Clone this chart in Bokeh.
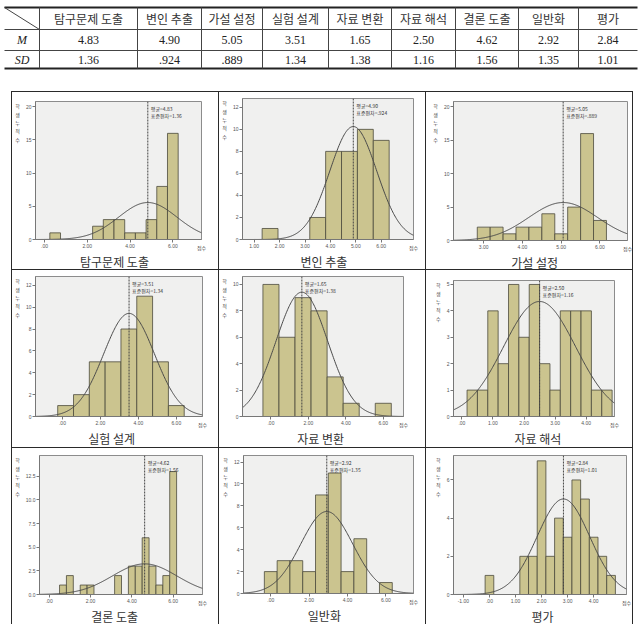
import numpy as np
from bokeh.plotting import figure
from bokeh.models import Span, Label, FixedTicker, Range1d, Spacer, ColumnDataSource
from bokeh.layouts import column, row
from bokeh.embed import file_html
from bokeh.resources import INLINE
from bokeh.core.properties import value

# ---------------- data ----------------
skills = ["탐구문제 도출", "변인 추출", "가설 설정", "실험 설계", "자료 변환",
          "자료 해석", "결론 도출", "일반화", "평가"]
mean_text = ["4.83", "4.90", "5.05", "3.51", "1.65", "2.50", "4.62", "2.92", "2.84"]
sd_text = ["1.36", ".924", ".889", "1.34", "1.38", "1.16", "1.56", "1.35", "1.01"]
means = [4.83, 4.90, 5.05, 3.51, 1.65, 2.50, 4.62, 2.92, 2.84]
sds = [1.36, 0.924, 0.889, 1.34, 1.38, 1.16, 1.56, 1.35, 1.01]

inquiry_centers = [0.5, 2.5, 3.0, 3.5, 4.0, 4.5, 5.0, 5.5, 6.0]
inquiry_counts = [1, 2, 3, 3, 1, 1, 3, 8, 16]
variable_centers = [1.625, 3.5, 4.125, 4.75, 5.375, 6.0]
variable_counts = [1, 2, 8, 8, 10, 9]
hypothesis_centers = [3.0, 3.333, 3.667, 4.0, 4.333, 4.667, 5.0, 5.333, 5.667, 6.0]
hypothesis_counts = [2, 2, 1, 2, 2, 4, 1, 5, 16, 3]
design_centers = [0.167, 1.0, 1.833, 2.667, 3.5, 4.333, 5.167, 6.0]
design_counts = [1, 2, 5, 5, 8, 11, 5, 1]
transform_centers = [0.0, 0.857, 1.714, 2.571, 3.429, 4.286, 6.0]
transform_counts = [10, 6, 9, 8, 3, 1, 1]
interpret_centers = [0.333, 0.667, 1.0, 1.333, 1.667, 2.0, 2.333, 2.667, 3.0,
                     3.333, 3.667, 4.0, 4.333, 4.667]
interpret_counts = [1, 1, 4, 2, 5, 3, 5, 2, 1, 4, 4, 4, 1, 1]
conclusion_centers = [0.667, 1.0, 1.667, 2.0, 3.333, 4.0, 4.333, 4.667, 5.0, 5.333, 5.667, 6.0]
conclusion_counts = [1, 2, 1, 1, 2, 3, 3, 6, 3, 1, 2, 13]
general_centers = [0.0, 0.667, 1.333, 2.0, 2.667, 3.333, 4.0, 4.667, 6.0]
general_counts = [2, 3, 3, 2, 9, 11, 2, 5, 1]
evaluation_centers = [0.0, 1.333, 1.667, 2.0, 2.333, 2.667, 3.0, 3.333, 3.667, 4.0, 4.333, 4.667]
evaluation_counts = [1, 2, 2, 7, 2, 4, 3, 6, 5, 3, 2, 1]

bin_widths = [0.5, 0.625, 0.3333, 0.8333, 0.857, 0.3333, 0.3333, 0.6667, 0.3333]
all_centers = [inquiry_centers, variable_centers, hypothesis_centers, design_centers,
               transform_centers, interpret_centers, conclusion_centers, general_centers,
               evaluation_centers]
all_counts = [inquiry_counts, variable_counts, hypothesis_counts, design_counts,
              transform_counts, interpret_counts, conclusion_counts, general_counts,
              evaluation_counts]

x_ticks = [[0, 2, 4, 6], [1, 2, 3, 4, 5, 6], [3, 4, 5, 6], [0, 2, 4, 6], [0, 2, 4, 6],
           [0, 1, 2, 3, 4], [0, 2, 4, 6], [0, 2, 4, 6], [-1, 0, 1, 2, 3, 4]]
x_tick_labels = [[".00", "2.00", "4.00", "6.00"],
                 ["1.00", "2.00", "3.00", "4.00", "5.00", "6.00"],
                 ["3.00", "4.00", "5.00", "6.00"],
                 [".00", "2.00", "4.00", "6.00"],
                 [".00", "2.00", "4.00", "6.00"],
                 [".00", "1.00", "2.00", "3.00", "4.00"],
                 [".00", "2.00", "4.00", "6.00"],
                 [".00", "2.00", "4.00", "6.00"],
                 ["-1.00", ".00", "1.00", "2.00", "3.00", "4.00"]]
y_ticks = [[0, 5, 10, 15, 20], [0, 2, 4, 6, 8, 10, 12], [0, 5, 10, 15, 20],
           [0, 2, 4, 6, 8, 10, 12], [0, 2, 4, 6, 8, 10], [0, 1, 2, 3, 4, 5],
           [0, 2.5, 5, 7.5, 10, 12.5], [0, 2, 4, 6, 8, 10, 12], [0, 2, 4, 6]]
y_tick_labels = [["0", "5", "10", "15", "20"], ["0", "2", "4", "6", "8", "10", "12"],
                 ["0", "5", "10", "15", "20"], ["0", "2", "4", "6", "8", "10", "12"],
                 ["0", "2", "4", "6", "8", "10"], ["0", "1", "2", "3", "4", "5"],
                 ["0.0", "2.5", "5.0", "7.5", "10.0", "12.5"],
                 ["0", "2", "4", "6", "8", "10", "12"], ["0", "2", "4", "6"]]
y_title = "\n\n\n\n\n학\n생\n누\n적\n수"
x_title = "점수"

# ---------------- layout (positions in page pixels) ----------------
CELL_W, CELL_H = 206, 177
cell_x = [12, 219, 426]
cell_y = [92, 270, 448]
frames = [(33, 201, 101, 243), (242, 413, 98, 243), (453, 627, 101, 244),
          (31, 202, 276, 420), (241, 403, 276, 420), (453, 614, 280, 420),
          (33, 202, 455, 598), (243, 413, 455, 597), (453, 626, 455, 598)]
x_lims = [(-0.42, 7.34), (0.54, 7.27), (2.22, 6.71), (-1.42, 7.38), (-1.52, 7.08),
          (-0.27, 4.91), (-0.47, 7.42), (-1.42, 7.44), (-1.38, 5.26)]
y_tops = [20.8, 12.8, 20.8, 12.8, 10.6, 5.15, 14.7, 12.6, 7.28]
caption_pos = [(110, 258), (317, 258), (522, 258), (106, 437), (319, 437), (534, 437),
               (107, 615), (317, 615), (532, 615)]
AXIS_H = 10

BAR_FILL = "#cbc48f"
BAR_LINE = "#4b4a3c"
KFONT = "Noto Sans CJK KR"


def try_set(obj, name, val):
    try:
        setattr(obj, name, val)
    except Exception:
        pass


cells = []
for i in range(9):
    cx = cell_x[i % 3]
    cy = cell_y[i // 3]
    l, r, t, b = frames[i]
    hh = (b - cy) + AXIS_H
    p = figure(width=CELL_W, height=hh, output_backend="svg", toolbar_location=None,
               x_range=Range1d(*x_lims[i]), y_range=Range1d(0, y_tops[i]),
               min_border_left=l - cx, min_border_right=cx + CELL_W - r,
               min_border_top=t - cy, min_border_bottom=AXIS_H)
    p.background_fill_color = "#f0f0ef"
    p.border_fill_color = "white"
    p.outline_line_color = "#8c8c8c"
    p.grid.visible = False
    for ax in (p.xaxis, p.yaxis):
        ax.axis_line_color = "#777777"
        ax.major_tick_line_color = "#777777"
        ax.major_tick_out = 3
        ax.major_tick_in = 0
        ax.minor_tick_line_color = None
        ax.major_label_text_font_size = "5px"
        ax.major_label_text_color = "#555555"
        ax.major_label_standoff = 1
        ax.axis_label_text_font = KFONT
        ax.axis_label_text_font_size = "5px"
        ax.axis_label_text_font_style = "normal"
        ax.axis_label_text_color = "#444444"
    p.xaxis.ticker = FixedTicker(ticks=x_ticks[i])
    p.xaxis.major_label_overrides = dict(zip(x_ticks[i], x_tick_labels[i]))
    p.yaxis.ticker = FixedTicker(ticks=y_ticks[i])
    p.yaxis.major_label_overrides = dict(zip(y_ticks[i], y_tick_labels[i]))

    xa = p.xaxis[0]
    xa.axis_label = x_title
    xa.axis_label_standoff = -7
    try_set(xa, "axis_label_align", "end")
    ya = p.yaxis[0]
    ya.axis_label = y_title
    ya.axis_label_standoff = 3
    try_set(ya, "axis_label_orientation", "horizontal")
    try_set(ya, "axis_label_align", "end")

    src = ColumnDataSource(dict(x=all_centers[i], top=all_counts[i]))
    p.vbar(x="x", top="top", bottom=0, width=bin_widths[i], source=src,
           fill_color=BAR_FILL, line_color=BAR_LINE, line_width=0.8)

    n = sum(all_counts[i])
    xs = np.linspace(x_lims[i][0], x_lims[i][1], 240)
    ys = n * bin_widths[i] / (sds[i] * np.sqrt(2 * np.pi)) * np.exp(-0.5 * ((xs - means[i]) / sds[i]) ** 2)
    p.line(xs, ys, line_color="#4a4a4a", line_width=1)

    p.add_layout(Span(location=means[i], dimension="height", line_color="#444444",
                      line_width=1, line_dash="2 1"))
    p.add_layout(Label(x=means[i], y=y_tops[i], x_offset=3, y_offset=-3,
                       text="평균=" + mean_text[i] + "\n표준편차=" + sd_text[i],
                       text_font=KFONT, text_font_size="5px", text_color="#333333",
                       text_align="left", text_baseline="top", text_line_height=1.1))

    # caption strip under the histogram
    ch = CELL_H - hh
    capx, capy = caption_pos[i]
    ycap = max(7.5, capy - cy - hh)
    cf = figure(width=CELL_W, height=ch, x_range=Range1d(0, CELL_W), y_range=Range1d(ch, 0),
                x_axis_type=None, y_axis_type=None, output_backend="svg",
                toolbar_location=None, min_border=0)
    cf.outline_line_color = None
    cf.border_fill_color = "white"
    cf.background_fill_color = "white"
    cf.grid.visible = False
    cf.text(x=[capx - cx], y=[ycap], text=[skills[i]], text_font=value(KFONT),
            text_font_size="12px", text_color="#333333", text_align="center",
            text_baseline="middle")
    cell = column(p, cf, spacing=0, styles={"outline": "1px solid #2a2a2a"})
    cells.append(cell)

grid = column([row(cells[k:k + 3], spacing=1) for k in (0, 3, 6)], spacing=1)

# ---------------- table ----------------
col_edges = [4, 39, 137, 201, 262, 328, 391, 455, 518, 578, 637]
row_lines = [7, 29, 50, 68]
tf = figure(width=640, height=91, x_range=Range1d(0, 640), y_range=Range1d(91, 0),
            x_axis_type=None, y_axis_type=None, output_backend="svg",
            toolbar_location=None, min_border=0)
tf.outline_line_color = None
tf.grid.visible = False
L, R = col_edges[0], col_edges[-1]
tf.segment(x0=[L, L], y0=[row_lines[0], row_lines[3]], x1=[R, R], y1=[row_lines[0], row_lines[3]],
           line_color="#222222", line_width=2)
tf.segment(x0=[L, L], y0=[row_lines[1], row_lines[2]], x1=[R, R], y1=[row_lines[1], row_lines[2]],
           line_color="#444444", line_width=1)
inner = col_edges[1:-1]
tf.segment(x0=inner, y0=[row_lines[0]] * len(inner), x1=inner, y1=[row_lines[3]] * len(inner),
           line_color="#444444", line_width=1)
tf.segment(x0=[col_edges[0]], y0=[row_lines[0]], x1=[col_edges[1]], y1=[row_lines[1]],
           line_color="#444444", line_width=1)
centers = [(col_edges[k] + col_edges[k + 1]) / 2 for k in range(1, len(col_edges) - 1)]
rmid = [(row_lines[k] + row_lines[k + 1]) / 2 for k in range(3)]
tf.text(x=centers, y=[rmid[0]] * 9, text=skills, text_font=value(KFONT), text_font_size="12px",
        text_color="#333333", text_align="center", text_baseline="middle")
tf.text(x=centers, y=[rmid[1]] * 9, text=mean_text, text_font=value("Liberation Serif"),
        text_font_size="12px", text_color="#222222", text_align="center", text_baseline="middle")
tf.text(x=centers, y=[rmid[2]] * 9, text=sd_text, text_font=value("Liberation Serif"),
        text_font_size="12px", text_color="#222222", text_align="center", text_baseline="middle")
first_mid = (col_edges[0] + col_edges[1]) / 2
tf.text(x=[first_mid, first_mid], y=[rmid[1], rmid[2]], text=["M", "SD"],
        text_font=value("Liberation Serif"), text_font_style="italic", text_font_size="12px",
        text_color="#222222", text_align="center", text_baseline="middle")

layout = column(tf, Spacer(width=640, height=1), row(Spacer(width=12, height=10), grid))

with open("out.html", "w") as f:
    f.write(file_html(layout, INLINE))
